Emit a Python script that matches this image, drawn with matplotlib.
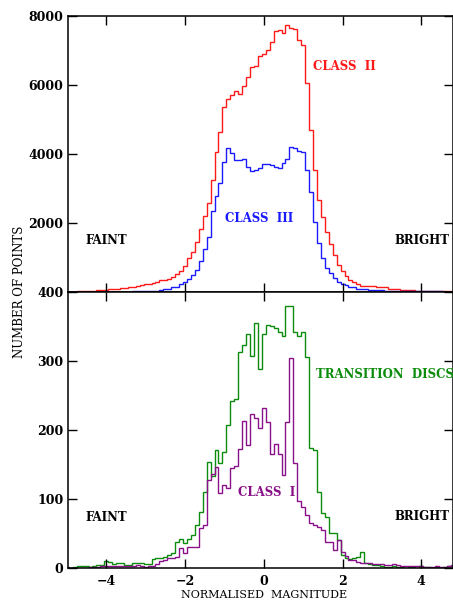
#!/usr/bin/env python3
import numpy as np
import matplotlib
matplotlib.use("Agg")
import matplotlib.pyplot as plt


# bin centres of the magnitude histograms (0.1 mag bins)
mag_centres = np.round(np.arange(-5.0, 4.81, 0.1), 1)

class_ii = [
    10, 15, 20, 25, 30, 35, 40, 45, 55, 65,
    75, 85, 90, 100, 115, 125, 140, 160, 190, 220,
    235, 250, 265, 300, 355, 370, 400, 450, 520, 615,
    770, 985, 1160, 1465, 1825, 2210, 2580, 3255, 4075, 4640,
    5380, 5595, 5720, 5835, 5740, 5960, 6235, 6520, 6560, 6830,
    6900, 7025, 7245, 7555, 7605, 7510, 7750, 7655, 7635, 7315,
    7170, 6060, 4705, 3545, 2675, 2190, 1755, 1390, 1070, 800,
    605, 470, 370, 300, 240, 195, 190, 190, 185, 160,
    155, 150, 100, 95, 95, 70, 68, 66, 65, 45,
    42, 40, 38, 35, 32, 30, 28, 25, 22,
]

class_iii = [
    3, 3, 4, 4, 5, 5, 6, 6, 7, 8,
    8, 9, 10, 12, 14, 16, 20, 25, 30, 35,
    40, 45, 40, 45, 80, 88, 95, 150, 165, 230,
    290, 385, 500, 645, 905, 1245, 1610, 2355, 2790, 3160,
    3785, 4175, 4030, 3835, 3820, 3855, 3640, 3515, 3545, 3605,
    3710, 3720, 3690, 3640, 3610, 3740, 3865, 4195, 4190, 4095,
    4060, 3545, 2915, 2045, 1420, 985, 695, 560, 420, 310,
    240, 210, 160, 140, 110, 100, 95, 80, 75, 70,
    55, 50, 48, 46, 44, 40, 38, 36, 34, 32,
    30, 28, 27, 26, 25, 24, 23, 22, 21,
]

transition_discs = [
    1, 1, 2, 3, 3, 3, 2, 4, 5, 5,
    10, 9, 6, 7, 7, 5, 5, 7, 8, 7,
    6, 6, 13, 15, 15, 17, 20, 22, 38, 42,
    36, 42, 48, 63, 82, 111, 154, 134, 171, 153,
    168, 208, 243, 246, 314, 324, 340, 308, 356, 289,
    340, 352, 351, 349, 342, 337, 380, 380, 343, 337,
    343, 306, 175, 171, 111, 80, 74, 51, 51, 41,
    20, 15, 14, 15, 17, 23, 8, 6, 5, 5,
    3, 2, 2, 3, 2, 2, 1, 2, 2, 1,
    3, 2, 2, 1, 2, 1, 2, 3, 4,
]

class_i = [
    2, 1, 0, 0, 1, 1, 2, 2, 2, 3,
    3, 3, 4, 4, 3, 4, 3, 4, 5, 4,
    2, 3, 4, 6, 10, 12, 15, 15, 17, 29,
    22, 31, 31, 31, 58, 63, 128, 136, 147, 109,
    121, 117, 145, 148, 173, 213, 179, 224, 218, 204,
    233, 212, 165, 180, 165, 135, 212, 305, 152, 97,
    89, 77, 65, 63, 60, 55, 38, 38, 27, 41,
    23, 18, 12, 12, 9, 8, 8, 7, 6, 6,
    6, 5, 5, 6, 5, 4, 4, 3, 3, 3,
    3, 2, 2, 2, 3, 2, 2, 4, 5,
]

top_yticks = [2000, 4000, 6000, 8000]
bottom_yticks = [0, 100, 200, 300, 400]
xticks = [-4, -2, 0, 2, 4]

RED = "#ff1a1a"
BLUE = "#1a1aff"
GREEN = "#0c8c0c"
PURPLE = "#8a108a"


def bin_edges(centres, width=0.1):
    return np.append(centres - width / 2, centres[-1] + width / 2)


def style_axis(ax, yticks, ylim):
    ax.set_xlim(-4.98, 4.805)
    ax.set_ylim(*ylim)
    ax.set_xticks(xticks)
    ax.set_yticks(yticks)
    ax.tick_params(direction="in", length=6.5, width=1.0, top=True, right=True,
                   labelsize=9, pad=3)
    ax.tick_params(axis="x", pad=4.5)
    for lbl in ax.get_xticklabels() + ax.get_yticklabels():
        lbl.set_fontfamily("DejaVu Serif")
        lbl.set_fontweight("bold")
    for sp in ax.spines.values():
        sp.set_linewidth(1.1)


def label(ax, x, y, text, color="black"):
    ax.text(x, y, text, color=color, ha="left", va="center", fontsize=8.5,
            family="DejaVu Serif", fontweight="bold")


def main():
    fig = plt.figure(figsize=(4.53, 6.01), dpi=100)
    ax_top = fig.add_axes([0.1494, 0.5136, 0.8506, 0.4597])
    ax_bot = fig.add_axes([0.1494, 0.0544, 0.8506, 0.4592])

    edges = bin_edges(mag_centres)

    ax_top.stairs(class_ii, edges, baseline=None, color=RED, lw=1.0)
    ax_top.stairs(class_iii, edges, baseline=None, color=BLUE, lw=1.0)
    style_axis(ax_top, top_yticks, (0, 8000))
    ax_top.tick_params(labelbottom=False)

    label(ax_top, 1.25, 6550, "CLASS  II", RED)
    label(ax_top, -0.98, 2125, "CLASS  III", BLUE)
    label(ax_top, -4.53, 1500, "FAINT")
    label(ax_top, 3.31, 1500, "BRIGHT")

    ax_bot.stairs(transition_discs, edges, baseline=None, color=GREEN, lw=1.0)
    ax_bot.stairs(class_i, edges, baseline=None, color=PURPLE, lw=1.0)
    style_axis(ax_bot, bottom_yticks, (0, 400))

    label(ax_bot, 1.33, 281, "TRANSITION  DISCS", GREEN)
    label(ax_bot, -0.65, 110, "CLASS  I", PURPLE)
    label(ax_bot, -4.53, 74, "FAINT")
    label(ax_bot, 3.31, 75, "BRIGHT")

    fig.text(20 / 453, 1 - 292 / 601, "NUMBER OF POINTS", rotation=90,
             ha="center", va="center", fontsize=8.5, family="DejaVu Serif")
    fig.text(264 / 453, 1 - 595.5 / 601, "NORMALISED  MAGNITUDE",
             ha="center", va="center", fontsize=8, family="DejaVu Serif")

    fig.savefig("out.png", dpi=100)


if __name__ == "__main__":
    main()
